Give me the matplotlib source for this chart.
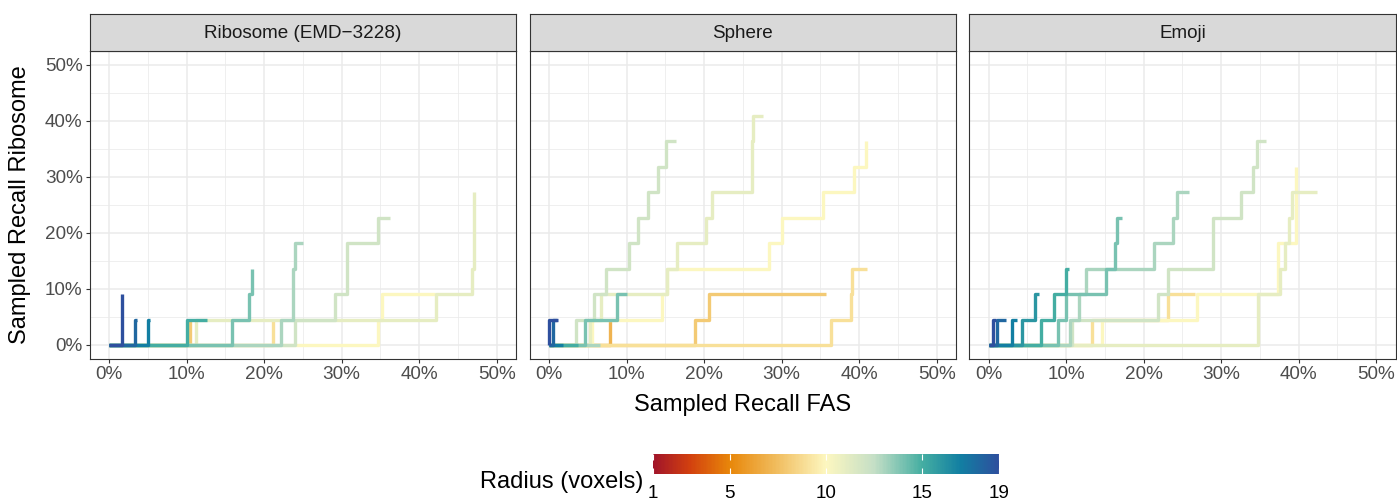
import matplotlib.pyplot as plt
import matplotlib as mpl
from matplotlib.colors import LinearSegmentedColormap, Normalize
from matplotlib.ticker import MultipleLocator, FuncFormatter

plt.rcParams['font.family'] = ['Liberation Sans', 'DejaVu Sans']

# ---- data (recall in %; step points, steps-post) ----
panel_titles = ['Ribosome (EMD\u22123228)', 'Sphere', 'Emoji']

ribosome_radius = [8, 9, 10, 11, 12, 13, 14, 15, 17, 18, 19]
ribosome_x = [
    [0, 10.5],
    [0, 21.2],
    [0, 34.7, 35.2, 42.0],
    [0, 11.2, 42.2, 46.8, 47.1],
    [0, 24.0, 29.1, 30.7, 34.7, 36.3],
    [0, 22.2, 23.7, 24.0, 25.0],
    [0, 15.9, 18.1, 18.5],
    [0, 10.0, 12.6],
    [0, 5.0, 5.3],
    [0, 3.4, 3.6],
    [0, 1.7],
]
ribosome_y = [
    [0, 4.5],
    [0, 4.5],
    [0, 4.5, 9.1, 9.1],
    [0, 4.5, 9.1, 13.6, 27.3],
    [0, 4.5, 9.1, 18.2, 22.7, 22.7],
    [0, 4.5, 13.6, 18.2, 18.2],
    [0, 4.5, 9.1, 13.6],
    [0, 4.5, 4.5],
    [0, 4.5, 4.5],
    [0, 4.5, 4.5],
    [0, 9.1],
]

sphere_radius = [7, 8, 9, 10, 11, 12, 14, 13, 15, 17, 18, 19]
sphere_x = [
    [0, 7.9],
    [0, 18.8, 20.6, 35.7],
    [0, 36.4, 38.9, 39.1, 41.0],
    [0, 5.6, 14.6, 15.2, 28.4, 30.0, 35.3, 39.3, 40.9],
    [0, 5.3, 6.7, 15.2, 16.5, 20.3, 21.0, 26.2, 26.3, 27.6],
    [0, 3.5, 5.8, 7.3, 10.35, 11.5, 12.8, 14.1, 15.1, 16.4],
    [0, 4.6, 8.8, 10.1],
    [0, 6.6],
    [0, 3.8],
    [0, 1.8],
    [0, 0.5, 1.0],
    [0, 0.0, 1.1],
]
sphere_y = [
    [0, 4.5],
    [0, 4.5, 9.1, 9.1],
    [0, 4.5, 9.1, 13.6, 13.6],
    [0, 4.5, 9.1, 13.6, 18.2, 22.7, 27.3, 31.8, 36.4],
    [0, 4.5, 9.1, 13.6, 18.2, 22.7, 27.3, 36.4, 40.9, 40.9],
    [0, 4.5, 9.1, 13.6, 18.2, 22.7, 27.3, 31.8, 36.4, 36.4],
    [0, 4.5, 9.1, 9.1],
    [0, 0],
    [0, 0],
    [0, 0],
    [0, 4.5, 4.5],
    [0, 4.5, 4.5],
]

emoji_radius = [9, 10, 11, 12, 13, 14, 15, 16, 17, 18, 19]
emoji_x = [
    [0, 13.3, 23.2, 26.6],
    [0, 14.6, 26.9, 37.3, 39.6],
    [0, 34.7, 37.6, 38.2, 38.7, 39.1, 42.3],
    [0, 10.8, 21.8, 23.2, 28.9, 32.5, 34.1, 34.6, 35.8],
    [0, 10.5, 11.7, 12.6, 21.4, 23.8, 24.3, 25.8],
    [0, 9.0, 10.0, 15.1, 16.3, 16.5, 17.2],
    [0, 6.7, 8.4, 10.0, 10.4],
    [0, 4.3, 6.0, 6.5],
    [0, 3.0, 3.7],
    [0, 1.1, 2.2],
    [0, 0.6, 0.9],
]
emoji_y = [
    [0, 4.5, 9.1, 9.1],
    [0, 4.5, 9.1, 18.2, 31.8],
    [0, 9.1, 13.6, 18.2, 22.7, 27.3, 27.3],
    [0, 4.5, 9.1, 13.6, 22.7, 27.3, 31.8, 36.4, 36.4],
    [0, 4.5, 9.1, 13.6, 18.2, 22.7, 27.3, 27.3],
    [0, 4.5, 9.1, 13.6, 18.2, 22.7, 22.7],
    [0, 4.5, 9.1, 13.6, 13.6],
    [0, 4.5, 9.1, 9.1],
    [0, 4.5, 4.5],
    [0, 4.5, 4.5],
    [0, 4.5, 4.5],
]

panels = [
    (ribosome_radius, ribosome_x, ribosome_y),
    (sphere_radius, sphere_x, sphere_y),
    (emoji_radius, emoji_x, emoji_y),
]

# colour scale for radius 1..19
r_min, r_max = 1, 19
nodes = [(1, '#A0142A'), (2.9, '#D2400F'), (5, '#E8870A'), (7.3, '#F0BA5A'),
         (10, '#FDF7C0'), (12.5, '#C5DFC6'), (15, '#45AEA2'), (17, '#127FA2'),
         (19, '#2E4F9E')]
cmap = LinearSegmentedColormap.from_list(
    'radius', [((r - r_min) / (r_max - r_min), c) for r, c in nodes])
norm = Normalize(r_min, r_max)

# ---- layout in pixels ----
W, H = 1397, 503


def box(l, t, r, b):
    return [l / W, 1 - b / H, (r - l) / W, (b - t) / H]


fig = plt.figure(figsize=(W / 100, H / 100), dpi=100)

lefts = [89.6, 529.6, 969.2]
pw = 426.4
p_top, p_bot = 50.7, 358.7
s_top = 14

pct = FuncFormatter(lambda v, pos: f'{v:.0f}%')

for i, (radius, xs, ys) in enumerate(panels):
    l = lefts[i]
    ax = fig.add_axes(box(l, p_top, l + pw, p_bot))
    ax.set_xlim(-2.5, 52.5)
    ax.set_ylim(-2.5, 52.5)
    ax.xaxis.set_major_locator(MultipleLocator(10))
    ax.xaxis.set_minor_locator(MultipleLocator(5))
    ax.yaxis.set_major_locator(MultipleLocator(10))
    ax.yaxis.set_minor_locator(MultipleLocator(5))
    ax.xaxis.set_major_formatter(pct)
    ax.yaxis.set_major_formatter(pct)
    ax.grid(which='major', color='#EBEBEB', lw=1.1, zorder=0)
    ax.grid(which='minor', color='#EBEBEB', lw=0.55, zorder=0)
    ax.set_axisbelow(True)
    ax.tick_params(which='major', length=2.75, width=0.8, color='#333333',
                   labelcolor='#4D4D4D', labelsize=13.6, pad=2.2)
    ax.tick_params(which='minor', length=0)
    if i > 0:
        ax.tick_params(axis='y', which='both', left=False, labelleft=False)
    for sp in ax.spines.values():
        sp.set_color('#333333')
        sp.set_linewidth(0.8)

    # draw curves, small radius first
    for r, x, y in sorted(zip(radius, xs, ys), key=lambda t: t[0]):
        ax.plot(x, y, drawstyle='steps-post', color=cmap(norm(r)), lw=2.4,
                solid_capstyle='butt', solid_joinstyle='round', zorder=3)

    # facet strip
    sax = fig.add_axes(box(l, s_top, l + pw, p_top))
    sax.set_facecolor('#D9D9D9')
    sax.set_xticks([])
    sax.set_yticks([])
    for sp in sax.spines.values():
        sp.set_color('#333333')
        sp.set_linewidth(0.8)
    sax.text(0.5, 0.48, panel_titles[i], ha='center', va='center',
             fontsize=13.6, color='#1A1A1A', transform=sax.transAxes)

# axis titles
fig.text((lefts[0] + lefts[2] + pw) / 2 / W, 1 - 405 / H, 'Sampled Recall FAS',
         ha='center', va='center', fontsize=17)
fig.text(20 / W, 1 - (p_top + p_bot) / 2 / H, 'Sampled Recall Ribosome',
         ha='center', va='center', rotation=90, fontsize=17)

# colour bar legend
cax = fig.add_axes(box(652.7, 454, 999.3, 474))
cb = mpl.colorbar.ColorbarBase(cax, cmap=cmap, norm=norm,
                               orientation='horizontal',
                               ticks=[1, 5, 10, 15, 19])
cb.outline.set_visible(False)
cax.tick_params(axis='x', direction='in', length=4, width=0.8, color='white',
                labelcolor='black', labelsize=13.6, pad=8, top=True)
fig.text(643 / W, 1 - 482 / H, 'Radius (voxels)', ha='right', va='center',
         fontsize=17)

fig.savefig('out.png', dpi=100)
